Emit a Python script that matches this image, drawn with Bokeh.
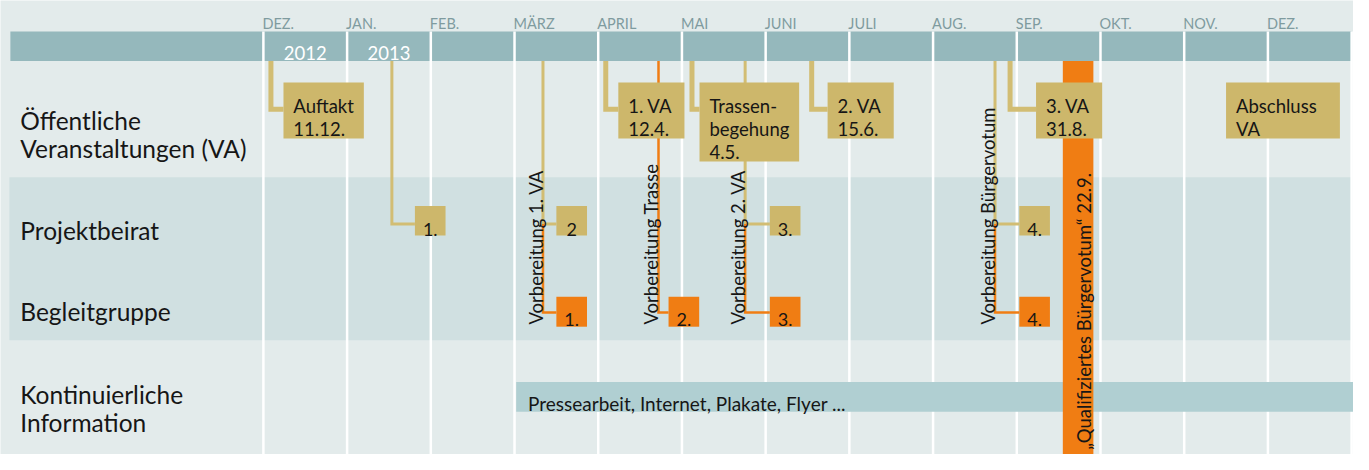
import math
from bokeh.plotting import figure
from bokeh.models import Range1d
from bokeh.core.properties import value
from bokeh.embed import file_html
from bokeh.resources import INLINE

# ---------------- data ----------------
months = ["DEZ.", "JAN.", "FEB.", "MÄRZ", "APRIL", "MAI", "JUNI", "JULI",
          "AUG.", "SEP.", "OKT.", "NOV.", "DEZ."]
years = ["2012", "2013"]
year_col = [0, 1]

row_labels = ["Öffentliche\nVeranstaltungen (VA)", "Projektbeirat",
              "Begleitgruppe", "Kontinuierliche\nInformation"]

# public events (months since 1 Dec 2012)
va_labels = ["Auftakt\n11.12.", "1. VA\n12.4.", "Trassen-\nbegehung\n4.5.",
             "2. VA\n15.6.", "3. VA\n31.8.", "Abschluss\nVA"]
va_marker = [0.09, 4.09, 5.12, 6.55, 8.92, None]
va_start = [0.24, 4.24, 5.21, 6.74, 9.23, 11.50]
va_end = [1.20, 5.03, 6.40, 7.53, 10.02, 12.86]

# preparation lines and committee meetings
prep_month = [1.535, 3.34, 4.72, 5.755, 8.74]
prep_labels = ["", "Vorbereitung 1. VA", "Vorbereitung Trasse",
               "Vorbereitung 2. VA", "Vorbereitung Bürgervotum"]
beirat_labels = ["1.", "2", "", "3.", "4."]
begleit_labels = ["", "1.", "2.", "3.", "4."]
meet_start = [1.81, 3.50, 4.84, 6.05, 9.03]

vote_label = "„Qualifiziertes Bürgervotum“ 22.9."
vote_span = [9.55, 9.915]

info_label = "Pressearbeit, Internet, Plakate, Flyer ..."
info_start = 3.02
chart_end = 13.0

# ---------------- layout / style ----------------
X0 = 266.0          # pixel of first month start (reference frame 1369x470)
MW = 84.7           # pixels per month
def px(v):          # pixel length -> month units
    return v / MW
def mx(p_):         # absolute pixel -> month units
    return (p_ - X0) / MW

BG = "#e3ebeb"
BAND = "#d0e0e1"
HEAD = "#95b8bc"
GOLD = "#cdb76b"
GOLD_LINE = "#d2bd73"
ORANGE = "#f07d13"
INFO = "#b0cfd2"
MONTHC = "#7f9b9f"
TXT = "#161616"
FONT = value("Lato")

p = figure(width=1353, height=454, x_range=Range1d(mx(0), mx(1369)),
           y_range=Range1d(470, 0), output_backend="svg",
           toolbar_location=None, min_border=0,
           x_axis_type=None, y_axis_type=None)
p.grid.visible = False
p.outline_line_color = None
p.background_fill_color = BG
p.border_fill_color = BG

HEAD_TOP, HEAD_BOT = 32.0, 62.7
BAND_TOP, BAND_BOT = 183.0, 351.7
R2_TOP, R2_BOT = 212.7, 243.3
R3_TOP, R3_BOT = 306.7, 337.7
R2_LINK, R3_LINK = 231.3, 323.0
R1_LINK = 112.5
BOX_TOP = 85.0
LINE_H = 23.8

# bands
p.quad(left=[mx(9)], right=[mx(1367)], top=[BAND_TOP], bottom=[BAND_BOT],
       fill_color=BAND, line_color=None)
p.quad(left=[mx(10)], right=[mx(1367)], top=[HEAD_TOP], bottom=[HEAD_BOT],
       fill_color=HEAD, line_color=None)

# month separators
sep_x = [float(i) for i in range(len(months) + 1)]
p.segment(x0=sep_x, y0=[HEAD_TOP] * len(sep_x), x1=sep_x, y1=[470] * len(sep_x),
          line_color="white", line_width=2.5)

# month labels
p.text(x=[i - px(1) for i in range(len(months))], y=[24.3] * len(months), text=months,
       text_font=FONT, text_font_size="14.5px", text_color=MONTHC,
       text_align="left", text_baseline="alphabetic")
# years
p.text(x=[c + 0.5 for c in year_col], y=[54.3] * len(years), text=years,
       text_font=FONT, text_font_size="18.5px", text_color="white",
       text_align="center", text_baseline="alphabetic")

# row labels
row_baselines = [[124.3, 153.3], [237.7], [322.3], [408.3, 436.7]]
lx, ly, lt = [], [], []
for lab, bls in zip(row_labels, row_baselines):
    for line, b in zip(lab.split("\n"), bls):
        lx.append(mx(20)); ly.append(b); lt.append(line)
p.text(x=lx, y=ly, text=lt, text_font=FONT, text_font_size="24.5px",
       text_color=TXT, text_align="left", text_baseline="alphabetic")

# info bar
p.quad(left=[info_start], right=[chart_end + 1], top=[395.0], bottom=[425.7],
       fill_color=INFO, line_color=None)
p.text(x=[info_start + px(12)], y=[417.7], text=[info_label], text_font=FONT,
       text_font_size="19px", text_color=TXT, text_align="left",
       text_baseline="alphabetic")

# vote bar
p.quad(left=[vote_span[0]], right=[vote_span[1]], top=[HEAD_BOT], bottom=[470],
       fill_color=ORANGE, line_color=None)
p.text(x=[(vote_span[0] + vote_span[1]) / 2 + px(5.5)], y=[465], text=[vote_label],
       angle=math.pi / 2, text_font=FONT, text_font_size="18.5px", text_color=TXT,
       text_align="left", text_baseline="alphabetic")

# prep connectors
gx, gy, ox, oy = [], [], [], []
for m, b1, b2, s in zip(prep_month, beirat_labels, begleit_labels, meet_start):
    if b1:
        gx.append([m, m, s]); gy.append([HEAD_BOT, R2_LINK, R2_LINK])
    if b2:
        top = R2_LINK if b1 else HEAD_BOT
        ox.append([m, m, s]); oy.append([top, R3_LINK, R3_LINK])
p.multi_line(xs=gx, ys=gy, line_color=GOLD_LINE, line_width=3, line_join="miter")
p.multi_line(xs=ox, ys=oy, line_color=ORANGE, line_width=2.5, line_join="miter")

# VA connectors
vx, vy = [], []
for m, s in zip(va_marker, va_start):
    if m is not None:
        vx.append([m, m, s]); vy.append([HEAD_BOT, R1_LINK, R1_LINK])
p.multi_line(xs=vx, ys=vy, line_color=GOLD_LINE, line_width=5, line_join="miter")

# VA boxes
va_bottom = [BOX_TOP + 24.5 + LINE_H * (len(l.split("\n")) - 1) + 9.5 for l in va_labels]
p.quad(left=va_start, right=va_end, top=[BOX_TOP] * len(va_start), bottom=va_bottom,
       fill_color=GOLD, line_color=None)
tx, ty, tt = [], [], []
for lab, s in zip(va_labels, va_start):
    for i, line in enumerate(lab.split("\n")):
        tx.append(s + px(10)); ty.append(109.5 + LINE_H * i); tt.append(line)
p.text(x=tx, y=ty, text=tt, text_font=FONT, text_font_size="18.5px", text_color=TXT,
       text_align="left", text_baseline="alphabetic")

# meeting boxes
W = px(31)
b1s = [s for s, l in zip(meet_start, beirat_labels) if l]
b1t = [l for l in beirat_labels if l]
b2s = [s for s, l in zip(meet_start, begleit_labels) if l]
b2t = [l for l in begleit_labels if l]
p.quad(left=b1s, right=[s + W for s in b1s], top=[R2_TOP] * len(b1s),
       bottom=[R2_BOT] * len(b1s), fill_color=GOLD, line_color=None)
p.quad(left=b2s, right=[s + W for s in b2s], top=[R3_TOP] * len(b2s),
       bottom=[R3_BOT] * len(b2s), fill_color=ORANGE, line_color=None)
p.text(x=[s + W / 2 for s in b1s], y=[236.6] * len(b1s), text=b1t, text_font=FONT,
       text_font_size="18px", text_color=TXT, text_align="center",
       text_baseline="alphabetic")
p.text(x=[s + W / 2 for s in b2s], y=[330.3] * len(b2s), text=b2t, text_font=FONT,
       text_font_size="18px", text_color=TXT, text_align="center",
       text_baseline="alphabetic")

# vertical prep labels
plx = [m - px(7.5) for m, l in zip(prep_month, prep_labels) if l]
plt_ = [l for l in prep_labels if l]
p.text(x=plx, y=[335.5] * len(plx), text=plt_, angle=math.pi / 2, text_font=FONT,
       text_font_size="18.5px", text_color=TXT, text_align="left",
       text_baseline="alphabetic")

open("out.html", "w").write(file_html(p, INLINE))
